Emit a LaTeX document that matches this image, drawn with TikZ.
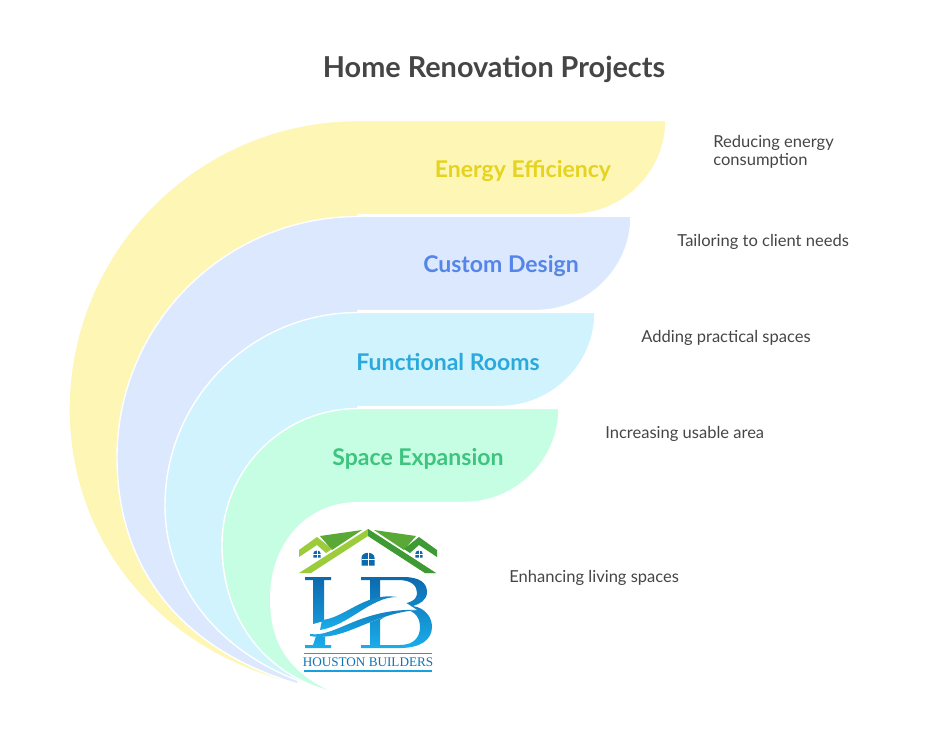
\documentclass[tikz,border=0pt]{standalone}
\usepackage{fontspec}
\setmainfont{Lato}
\newfontfamily\logofont{Liberation Serif}
\definecolor{inktext}{HTML}{454545}
\definecolor{bandyellow}{HTML}{FEF6B4}
\definecolor{bandblue}{HTML}{DBE8FE}
\definecolor{bandcyan}{HTML}{D0F3FE}
\definecolor{bandgreen}{HTML}{C6FEE3}
\definecolor{inkyellow}{HTML}{E5D31F}
\definecolor{inkblue}{HTML}{5585E8}
\definecolor{inkcyan}{HTML}{2AA9DC}
\definecolor{inkgreen}{HTML}{3DC47E}
\definecolor{logodark}{HTML}{0C69AE}
\definecolor{logolight}{HTML}{1AAEEA}
\definecolor{roofdark}{HTML}{3E9A35}
\definecolor{rooflight}{HTML}{9CCB3B}
\tikzset{
  bandtitle/.style={font=\fontsize{13.1}{15}\selectfont\bfseries},
  sidenote/.style={font=\fontsize{9.4}{10.4}\selectfont,text=inktext,align=left,anchor=west,inner sep=0pt},
}
\begin{document}
\begin{tikzpicture}[x=.02cm,y=-.02cm]
  \useasboundingbox (0,0) rectangle (950,744);
  \foreach \bandcol/\topy/\rightx/\leftx/\lowa/\lowbx/\lowby/\tipx/\tipy in {
      bandyellow/120.5/666/69/125/150/642/280/680,
      bandblue/216.5/631/117/105/175/648/298/684,
      bandcyan/312.5/595/165/88/230/665/328/690,
      bandgreen/408.5/559/222/68/258/672/332/692} {
    \pgfmathsetmacro\radius{358-\leftx}
    \pgfmathsetmacro\midy{\topy+\radius}
    \draw[white,line width=.8pt,line join=round,fill=\bandcol] (\rightx,\topy) .. controls (\rightx,\topy+52) and (\rightx-43,\topy+94) .. (\rightx-95,\topy+94)
      -- (358,\topy+94) -- (\tipx,\tipy)
      .. controls (\lowbx,\lowby) and (\leftx,\midy+\lowa) .. (\leftx,\midy)
      .. controls (\leftx,\midy-.5523*\radius) and (358-.5523*\radius,\topy) .. (358,\topy) -- cycle;
  }
  \fill[white] (358,502) .. controls (305,502) and (270,545) .. (270,598) .. controls (270,640) and (285,670) .. (332,692) -- cycle;

  \node[text=inktext,font=\fontsize{16.4}{18}\selectfont\bfseries] (heading) at (494,69) {Home Renovation Projects};
  \node[bandtitle,text=inkyellow] (energy) at (523,170.5) {Energy Efficiency};
  \node[bandtitle,text=inkblue] (custom) at (501,266.5) {Custom Design};
  \node[bandtitle,text=inkcyan] (functional) at (448,362.5) {Functional Rooms};
  \node[bandtitle,text=inkgreen] (space) at (418,458.5) {Space Expansion};

  \node[sidenote] (reducing) at (713,152) {Reducing energy\\consumption};
  \node[sidenote] (tailoring) at (677,242) {Tailoring to client needs};
  \node[sidenote] (adding) at (641,338) {Adding practical spaces};
  \node[sidenote] (increasing) at (605,434) {Increasing usable area};
  \node[sidenote] (enhancing) at (509,578) {Enhancing living spaces};

  % logo
  \fill[rooflight] (368,529) -- (299,573) -- (311,573) -- (368,536) -- (425,573) -- (436,573) -- cycle;
  \fill[roofdark] (368,529) -- (436,573) -- (425,573) -- (368,536) -- cycle;
  \fill[roofdark!70!rooflight] (320,536) -- (362,530) -- (332,550) -- cycle;
  \fill[roofdark!70!rooflight] (416,536) -- (374,530) -- (404,550) -- cycle;
  \fill[rooflight] (299,550) -- (317,537) -- (332,549) -- (326,553) -- (317,545) -- (299,557) -- cycle;
  \fill[roofdark] (437,550) -- (419,537) -- (404,549) -- (410,553) -- (419,545) -- (437,557) -- cycle;
  \foreach \winx/\winy/\winr in {317/554/3.6,419/554/3.6,368/559/6.5} {
    \fill[logodark] (\winx-\winr,\winy+\winr) -- (\winx-\winr,\winy-.2*\winr) .. controls (\winx-\winr,\winy-1.2*\winr) and (\winx+\winr,\winy-1.2*\winr) .. (\winx+\winr,\winy-.2*\winr) -- (\winx+\winr,\winy+\winr) -- cycle;
    \draw[white,line width=.4pt] (\winx,\winy-1.2*\winr) -- (\winx,\winy+\winr) (\winx-\winr,\winy+.1*\winr) -- (\winx+\winr,\winy+.1*\winr);
  }
  \shade[top color=logodark,bottom color=logolight,even odd rule]
    (305,577) -- (331,577) -- (331,580) -- (324,580) -- (324,621) -- (313,624) -- (313,580) -- (305,580) -- cycle
    (317,633) -- (325,630) -- (325,645) -- (331,645) -- (331,648) -- (305,648) -- (305,645) -- (313,645) -- cycle
    (361,577) -- (403,577) .. controls (420,577) and (427,583) .. (427,592) .. controls (427,600) and (420,604) .. (413,606)
      .. controls (425,608) and (432,617) .. (432,627) .. controls (432,640) and (420,648) .. (400,648) -- (361,648) -- (361,645) -- (370,645) -- (370,580) -- (361,580) -- cycle
    (380,580) -- (398,580) .. controls (412,580) and (417,586) .. (417,593) .. controls (417,600) and (410,604) .. (396,604) -- (380,606) -- cycle
    (380,620) -- (380,645) -- (400,645) .. controls (414,645) and (420,637) .. (420,627) .. controls (420,615) and (412,609) .. (398,608) -- cycle;
  \fill[white] (320,630) .. controls (350,625) and (370,597) .. (397,597) -- (417,610) .. controls (370,614) and (345,642) .. (310,636) -- cycle;
  \shade[top color=logodark!70!logolight,bottom color=logolight]
    (322,620) .. controls (345,618) and (365,592) .. (397,597) .. controls (370,597) and (350,625) .. (320,630) -- cycle;
  \shade[top color=logodark!70!logolight,bottom color=logolight]
    (310,634) .. controls (335,638) and (360,608) .. (417,610) .. controls (370,614) and (345,642) .. (310,636) -- cycle;
  \fill[logolight!80!logodark] (304,652.5) rectangle (432,653.5);
  \node[font=\logofont\fontsize{7.5}{9}\selectfont,text=logodark!85!logolight,inner sep=0pt] (builders) at (368,662) {HOUSTON BUILDERS};
  \fill[logolight!80!logodark] (304,669.5) rectangle (432,671.5);
\end{tikzpicture}
\end{document}
